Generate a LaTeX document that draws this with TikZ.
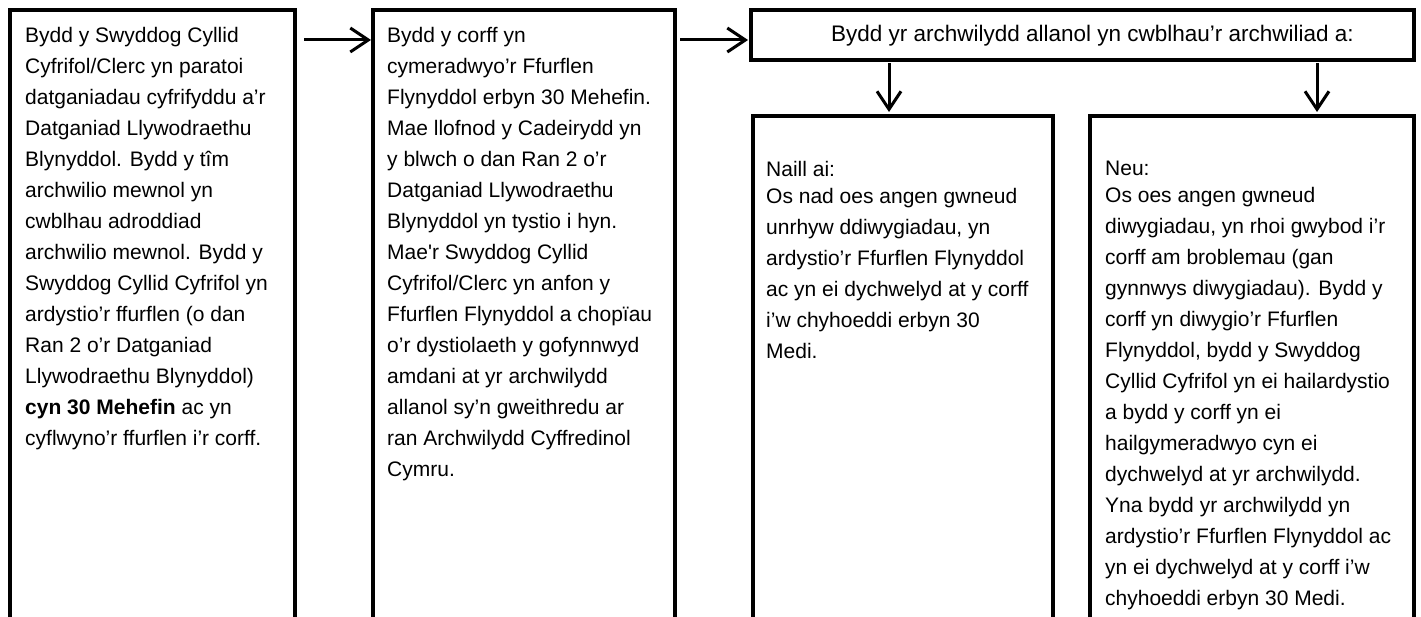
\documentclass[tikz,border=0pt]{standalone}
\usepackage{fontspec}
\setmainfont{Liberation Sans}
\usetikzlibrary{arrows.meta}
\begin{document}
\begin{tikzpicture}[x=1pt,y=-1pt,
  frame/.style={draw, line width=4pt, rectangle, anchor=north west, inner sep=0pt, outer sep=0pt},
  txt/.style={anchor=north west, align=left, inner sep=0pt, font=\fontsize{21pt}{31pt}\selectfont},
  arr/.style={line width=3pt, -{Straight Barb[length=18pt,width=24pt]}}]
\useasboundingbox (0,0) rectangle (1421,617);
\clip (0,0) rectangle (1421,617);
\node[frame, minimum width=285pt, minimum height=700pt] (f1) at (10,10) {};
\node[frame, minimum width=302pt, minimum height=700pt] (f2) at (373,10) {};
\node[frame, minimum width=663pt, minimum height=50pt] (f3) at (751,10) {};
\node[frame, minimum width=300pt, minimum height=600pt] (f4) at (753,116) {};
\node[frame, minimum width=324pt, minimum height=600pt] (f5) at (1090,116) {};

\node[txt] (t1) at (25,27) {Bydd y Swyddog Cyllid\\
Cyfrifol/Clerc yn paratoi\\
datganiadau cyfrifyddu a’r\\
Datganiad Llywodraethu\\
Blynyddol. Bydd y tîm\\
archwilio mewnol yn\\
cwblhau adroddiad\\
archwilio mewnol. Bydd y\\
Swyddog Cyllid Cyfrifol yn\\
ardystio’r ffurflen (o dan\\
Ran 2 o’r Datganiad\\
Llywodraethu Blynyddol)\\
\textbf{cyn 30 Mehefin} ac yn\\
cyflwyno’r ffurflen i’r corff.};

\node[txt] (t2) at (387,27) {Bydd y corff yn\\
cymeradwyo’r Ffurflen\\
Flynyddol erbyn 30 Mehefin.\\
Mae llofnod y Cadeirydd yn\\
y blwch o dan Ran 2 o’r\\
Datganiad Llywodraethu\\
Blynyddol yn tystio i hyn.\\
Mae\textquotesingle r Swyddog Cyllid\\
Cyfrifol/Clerc yn anfon y\\
Ffurflen Flynyddol a chopïau\\
o’r dystiolaeth y gofynnwyd\\
amdani at yr archwilydd\\
allanol sy’n gweithredu ar\\
ran Archwilydd Cyffredinol\\
Cymru.};

\node[inner sep=0pt, font=\fontsize{22.5pt}{31pt}\selectfont] (t3) at ([shift={(10,1)}]f3.center) {Bydd yr archwilydd allanol yn cwblhau’r archwiliad a:};

\node[txt] (t4) at (766,161) {Naill ai:\\[-4pt]
Os nad oes angen gwneud\\
unrhyw ddiwygiadau, yn\\
ardystio’r Ffurflen Flynyddol\\
ac yn ei dychwelyd at y corff\\
i’w chyhoeddi erbyn 30\\
Medi.};

\node[txt] (t5) at (1105,161) {Neu:\\[-4pt]
Os oes angen gwneud\\
diwygiadau, yn rhoi gwybod i’r\\
corff am broblemau (gan\\
gynnwys diwygiadau). Bydd y\\
corff yn diwygio’r Ffurflen\\
Flynyddol, bydd y Swyddog\\
Cyllid Cyfrifol yn ei hailardystio\\
a bydd y corff yn ei\\
hailgymeradwyo cyn ei\\
dychwelyd at yr archwilydd.\\
Yna bydd yr archwilydd yn\\
ardystio’r Ffurflen Flynyddol ac\\
yn ei dychwelyd at y corff i’w\\
chyhoeddi erbyn 30 Medi.};

\draw[arr] ([shift={(9,30)}]f1.north east) -- ([shift={(-2,30)}]f2.north west);
\draw[arr] ([shift={(5,30)}]f2.north east) -- ([shift={(-3,30)}]f3.north west);
\draw[arr] ([shift={(138,3)}]f3.south west) -- ([shift={(136,-4)}]f4.north west);
\draw[arr] ([shift={(566,3)}]f3.south west) -- ([shift={(227,-4)}]f5.north west);
\end{tikzpicture}
\end{document}
